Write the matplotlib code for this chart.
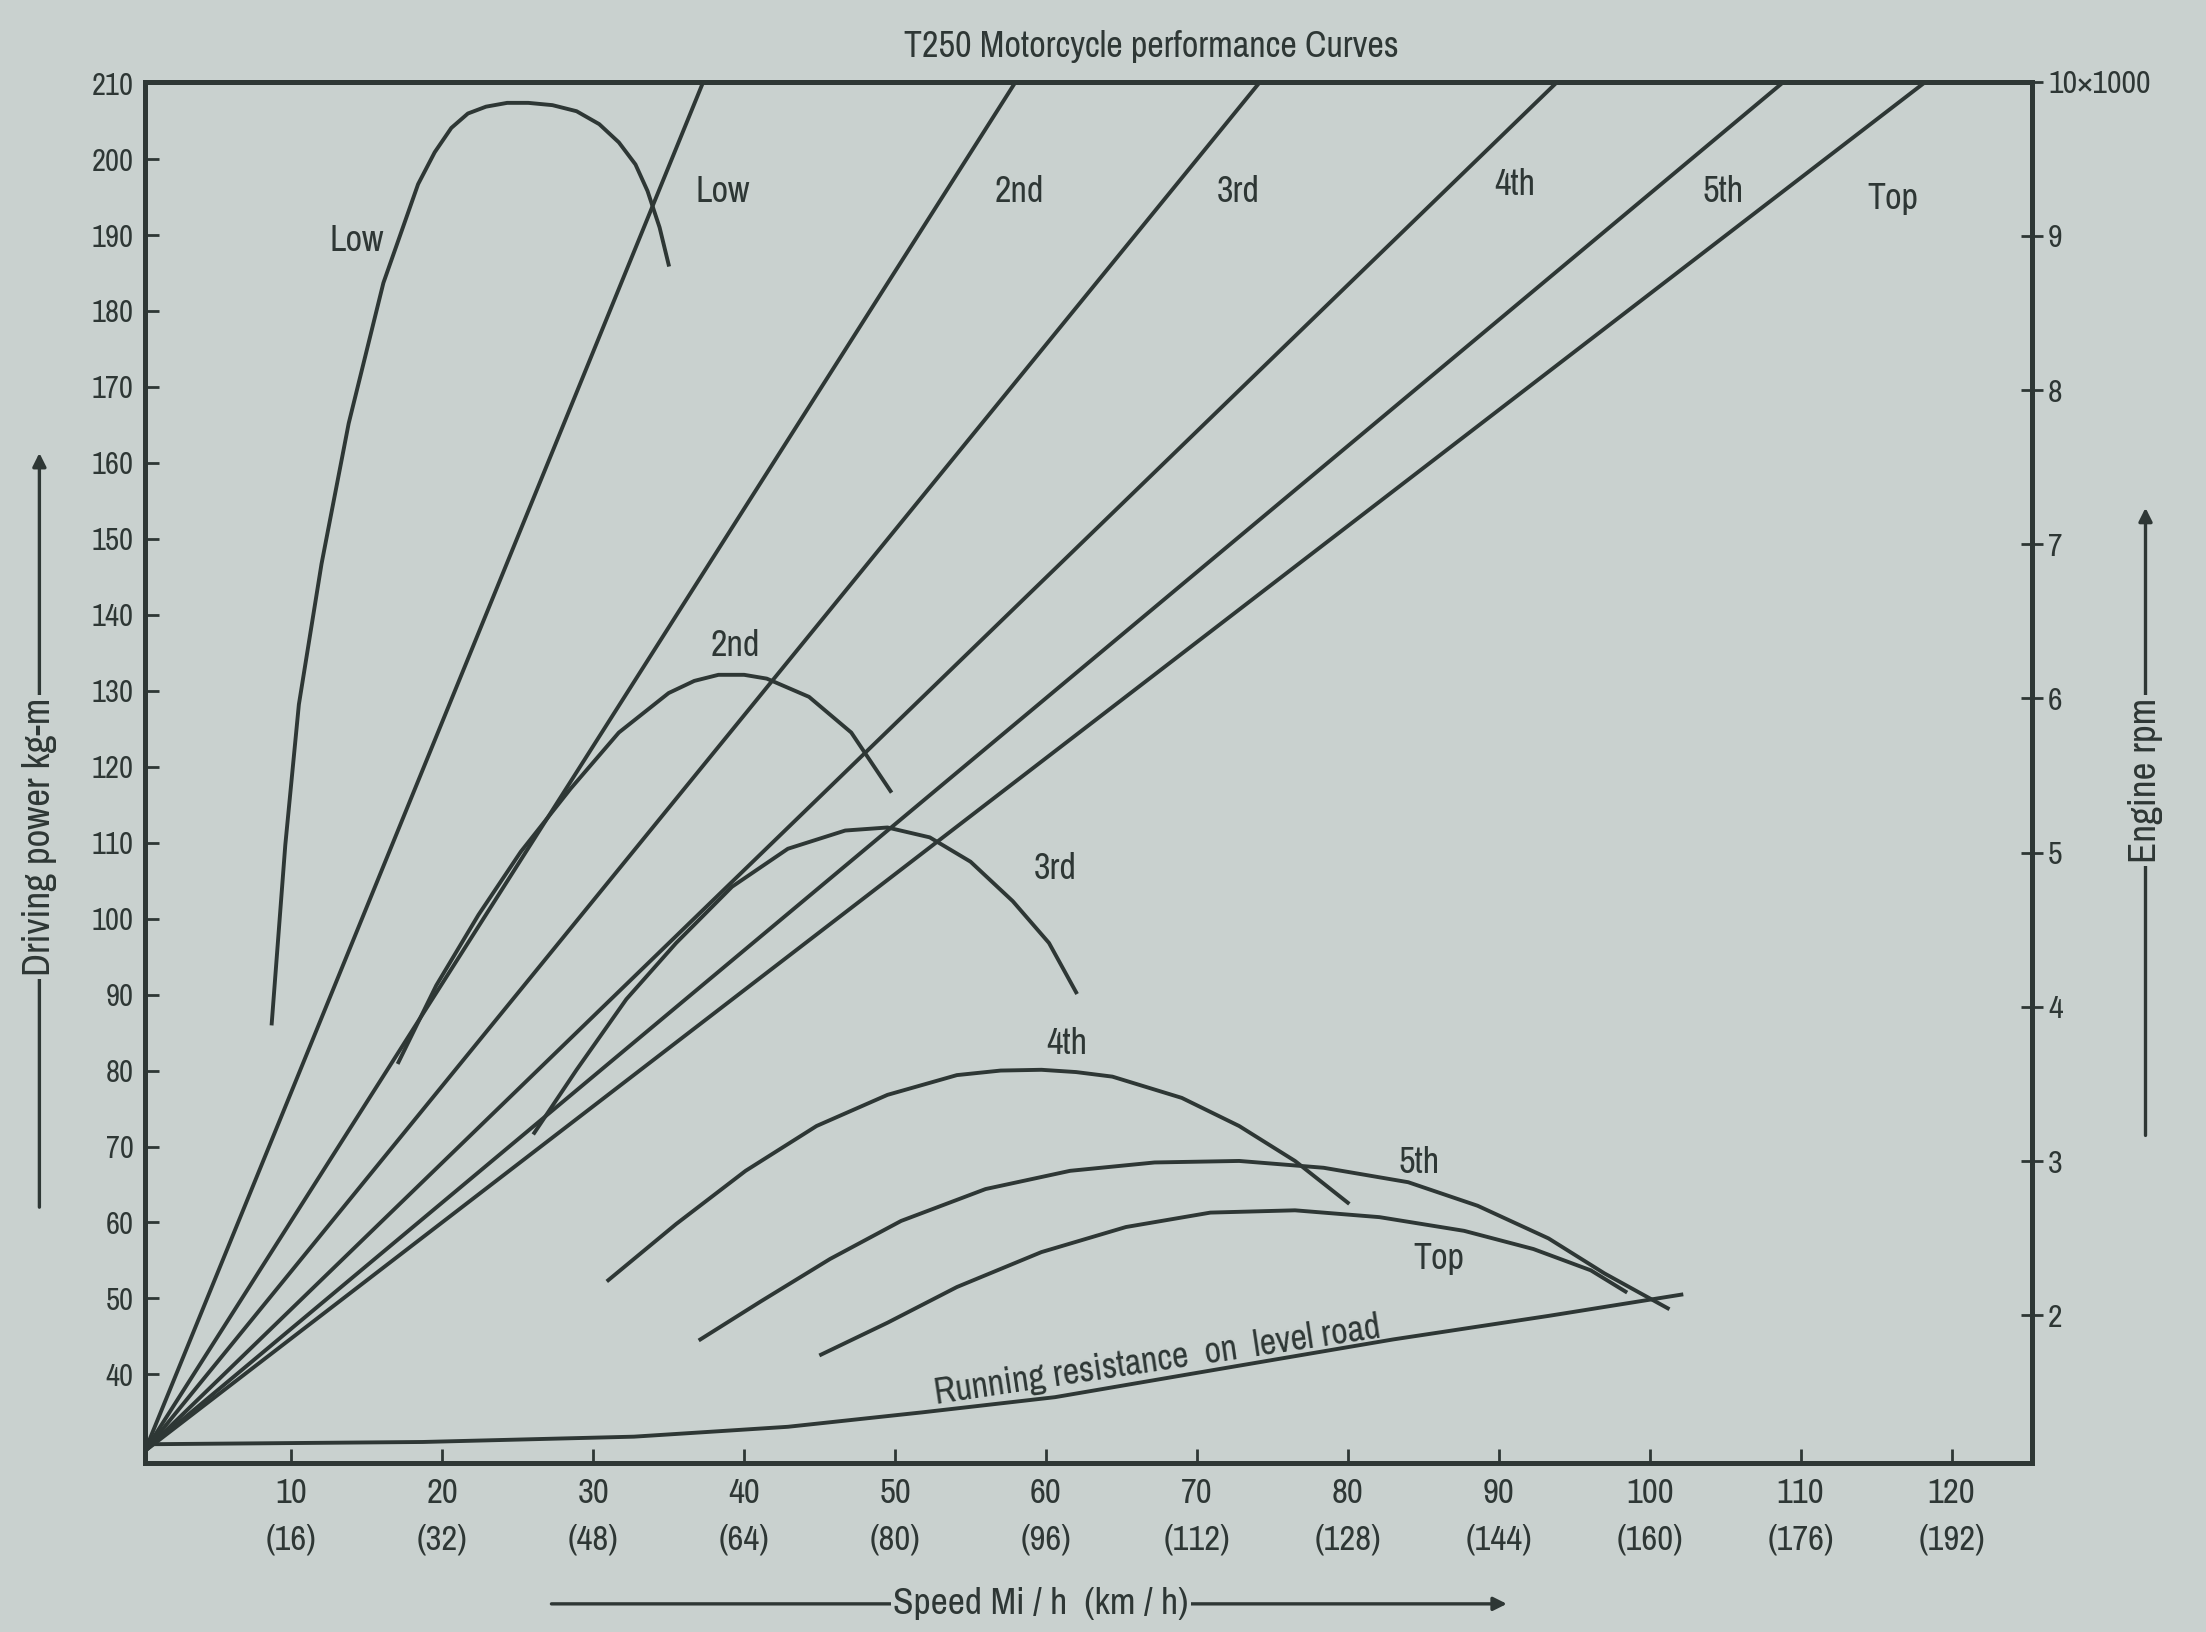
import matplotlib
matplotlib.use("Agg")
import matplotlib.pyplot as plt
from matplotlib import font_manager

# ---- data ----
speed_ticks = [10, 20, 30, 40, 50, 60, 70, 80, 90, 100, 110, 120]
kmh_ticks = [16, 32, 48, 64, 80, 96, 112, 128, 144, 160, 176, 192]
force_ticks = list(range(40, 220, 10))
rpm_ticks = [2, 3, 4, 5, 6, 7, 8, 9, 10]

# driving force curves (speed mph, kg-m)
low_speed = [8.7, 9.6, 10.5, 12.0, 13.8, 16.1, 18.4, 19.5, 20.6, 21.7, 22.9, 24.3, 25.7, 27.3, 28.9, 30.4, 31.7, 32.8, 33.6, 34.4, 35.0]
low_force = [86.2, 109.7, 128.2, 146.7, 165.2, 183.7, 196.7, 200.9, 204.1, 206.0, 206.9, 207.4, 207.4, 207.1, 206.3, 204.6, 202.2, 199.3, 195.8, 191.0, 186.1]

second_speed = [17.1, 19.6, 22.4, 25.2, 28.5, 31.7, 35.0, 36.7, 38.3, 40.0, 41.5, 44.3, 47.1, 49.7]
second_force = [81.1, 91.2, 100.5, 108.8, 117.1, 124.5, 129.7, 131.3, 132.1, 132.1, 131.6, 129.2, 124.5, 116.8]

third_speed = [26.1, 28.9, 32.2, 35.5, 39.2, 42.9, 46.7, 49.5, 52.3, 55.0, 57.8, 60.2, 62.0]
third_force = [71.8, 80.1, 89.4, 96.8, 104.2, 109.2, 111.6, 112.0, 110.7, 107.5, 102.3, 96.8, 90.3]

fourth_speed = [31.0, 35.5, 40.1, 44.8, 49.5, 54.1, 57.0, 59.7, 62.0, 64.4, 69.0, 72.8, 76.5, 80.0]
fourth_force = [52.4, 59.8, 66.8, 72.7, 76.8, 79.4, 80.0, 80.1, 79.8, 79.2, 76.4, 72.7, 68.1, 62.6]

fifth_speed = [37.1, 41.1, 45.7, 50.4, 56.0, 61.6, 67.2, 72.8, 78.4, 84.0, 88.6, 93.3, 97.0, 101.2]
fifth_force = [44.6, 49.6, 55.2, 60.2, 64.4, 66.8, 67.9, 68.1, 67.2, 65.3, 62.2, 57.9, 53.3, 48.7]

top_speed = [45.1, 49.5, 54.1, 59.7, 65.3, 70.9, 76.5, 82.1, 87.7, 92.3, 96.1, 98.4]
top_force = [42.6, 46.8, 51.5, 56.1, 59.4, 61.3, 61.6, 60.7, 58.9, 56.5, 53.7, 50.9]

resist_speed = [0.3, 18.7, 32.7, 42.9, 51.8, 60.6, 70.0, 83.0, 93.3, 102.1]
resist_force = [30.8, 31.1, 31.8, 33.1, 35.0, 37.0, 40.2, 44.6, 47.7, 50.5]

# engine rpm lines: speed reached at 10x1000 rpm for each gear
gears = ["Low", "2nd", "3rd", "4th", "5th", "Top"]
gear_speed_10k = [37.3, 58.0, 74.2, 93.9, 108.9, 118.3]
origin_speed, origin_rpm = 0.3, 1.12

curves = [
    ("Low", low_speed, low_force, 14.3, 189.3),
    ("2nd", second_speed, second_force, 39.4, 136.0),
    ("3rd", third_speed, third_force, 60.6, 106.6),
    ("4th", fourth_speed, fourth_force, 61.4, 83.5),
    ("5th", fifth_speed, fifth_force, 84.7, 67.9),
    ("Top", top_speed, top_force, 86.0, 55.2),
]
gear_label_pos = [(36.8, 9.29), (56.6, 9.29), (71.3, 9.29), (89.7, 9.33), (103.5, 9.29), (114.4, 9.24)]

# ---- style ----
names = sorted({f.name for f in font_manager.fontManager.ttflist})
narrow = [n for n in names if "Condensed" in n or "Narrow" in n]
fam = narrow[0] if narrow else "DejaVu Sans"
plt.rcParams["font.family"] = [fam, "DejaVu Sans"]
k = 1.0 if narrow else 0.8

bg = "#c9d1cf"
ink = "#2e3735"
lw = 1.4

fig = plt.figure(figsize=(11.03, 8.16), dpi=200, facecolor=bg)
ax = fig.add_axes([0.0657, 0.1034, 0.8552, 0.8466])
ax.set_facecolor(bg)

for name, xs, ys, lx, ly in curves:
    ax.plot(xs, ys, color=ink, lw=lw, solid_joinstyle="round")
    ax.text(lx, ly, name, fontsize=13 * k, color=ink, ha="center", va="center")

ax.plot(resist_speed, resist_force, color=ink, lw=lw, solid_joinstyle="round")
ax.text(67.4, 41.9, "Running resistance  on  level road", fontsize=13 * k, color=ink,
        ha="center", va="center", rotation=8.5)

ax.set_xlim(0.3, 125.3)
ax.set_ylim(28.3, 210.2)
ax.set_xticks(speed_ticks)
ax.set_xticklabels([f"{s}\n({k_})" for s, k_ in zip(speed_ticks, kmh_ticks)], linespacing=1.55)
ax.set_yticks(force_ticks)
ax.set_yticklabels([str(v) for v in force_ticks])
ax.tick_params(axis="both", direction="in", length=5, width=1.0, colors=ink)
ax.tick_params(axis="x", pad=5, labelsize=12.5 * k)
ax.tick_params(axis="y", pad=4, labelsize=11 * k)

ax2 = ax.twinx()
for g, v10, (lx, ly) in zip(gears, gear_speed_10k, gear_label_pos):
    ax2.plot([origin_speed, v10], [origin_rpm, 10.0], color=ink, lw=lw)
    ax2.text(lx, ly, g, fontsize=13 * k, color=ink, ha="left", va="center")
ax2.set_ylim(1.04, 10.0)
ax2.set_yticks(rpm_ticks)
ax2.set_yticklabels([str(r) for r in rpm_ticks[:-1]] + ["10\u00d71000"])
ax2.tick_params(axis="y", direction="inout", length=8, width=1.0, colors=ink,
                labelsize=11.5 * k, pad=2)

for a in (ax, ax2):
    for sp in a.spines.values():
        sp.set_color(ink)
        sp.set_linewidth(1.8)

fig.text(818 / 1568, 1 - 33 / 1160, "T250 Motorcycle performance Curves",
         fontsize=13 * k, color=ink, ha="center", va="center")

# axis captions with arrows
arrow = dict(arrowstyle="-|>", color=ink, lw=1.2, mutation_scale=10)
box = dict(facecolor=bg, edgecolor="none", pad=1)

fig.add_artist(matplotlib.patches.FancyArrowPatch(
    (28 / 1568, 1 - 862 / 1160), (28 / 1568, 1 - 318 / 1160),
    transform=fig.transFigure, **arrow))
fig.text(28 / 1568, 1 - 595 / 1160, "Driving power kg-m", rotation=90, fontsize=14 * k,
         color=ink, ha="center", va="center", bbox=box)

fig.add_artist(matplotlib.patches.FancyArrowPatch(
    (1525 / 1568, 1 - 811 / 1160), (1525 / 1568, 1 - 357 / 1160),
    transform=fig.transFigure, **arrow))
fig.text(1525 / 1568, 1 - 555 / 1160, "Engine rpm", rotation=90, fontsize=14 * k,
         color=ink, ha="center", va="center", bbox=box)

fig.add_artist(matplotlib.patches.FancyArrowPatch(
    (388 / 1568, 1 - 1140 / 1160), (1075 / 1568, 1 - 1140 / 1160),
    transform=fig.transFigure, **arrow))
fig.text(740 / 1568, 1 - 1140 / 1160, "Speed Mi / h  (km / h)", fontsize=13.5 * k,
         color=ink, ha="center", va="center", bbox=box)

fig.savefig("out.png", dpi=200, facecolor=bg)
